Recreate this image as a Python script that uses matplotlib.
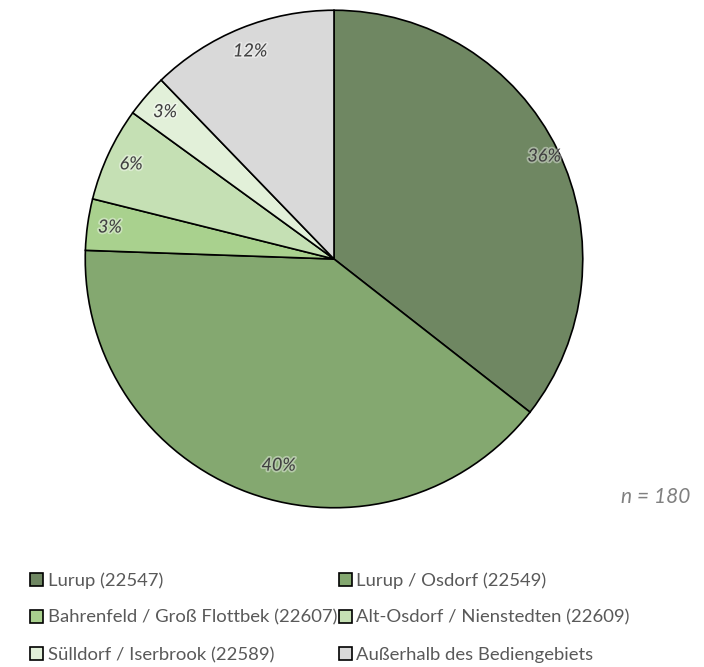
import numpy as np
import matplotlib.pyplot as plt
import matplotlib.patheffects as pe

plt.rcParams['font.family'] = ['Lato', 'DejaVu Sans']

labels = ['Lurup (22547)', 'Lurup / Osdorf (22549)', 'Bahrenfeld / Groß Flottbek (22607)',
          'Alt-Osdorf / Nienstedten (22609)', 'Sülldorf / Iserbrook (22589)',
          'Außerhalb des Bediengebiets']
counts = [64, 72, 6, 11, 5, 22]
pct_text = ['36%', '40%', '3%', '6%', '3%', '12%']
colors = ['#6F8762', '#84A870', '#A9D18E', '#C5E0B4', '#E2F0D9', '#D9D9D9']

W, H = 704, 667
fig = plt.figure(figsize=(W / 100, H / 100), dpi=100)
ax = fig.add_axes([84 / W, (H - 509) / H, 500 / W, 500 / H])

wedges, _ = ax.pie(counts, colors=colors, startangle=90, counterclock=False,
                   wedgeprops=dict(edgecolor='black', linewidth=1.2))
ax.set_xlim(-1.005, 1.005)
ax.set_ylim(-1.005, 1.005)
ax.set_aspect('equal')

# label placement: radius (fraction of pie radius) and angle shift in degrees
label_r = [0.94, 0.86, 0.91, 0.9, 0.9, 0.9]
label_shift = [0, 5, 0, 0, 0, 0]
theta = 90.0
total = sum(counts)
for c, t, r, s in zip(counts, pct_text, label_r, label_shift):
    span = 360.0 * c / total
    mid = np.deg2rad(theta - span / 2 + s)
    theta -= span
    ax.text(r * np.cos(mid), r * np.sin(mid), t, ha='center', va='center',
            fontsize=13, style='italic', color='#404040',
            path_effects=[pe.withStroke(linewidth=2.5, foreground='white', alpha=0.4)])

fig.text(690 / W, 1 - 497 / H, 'n = 180', ha='right', va='center', fontsize=15,
         style='italic', color='#808080')

order = [0, 2, 4, 1, 3, 5]
leg = fig.legend([wedges[i] for i in order], [labels[i] for i in order],
                 ncol=2, loc='upper left', bbox_to_anchor=(30 / W, 1 - 572 / H),
                 frameon=False, fontsize=13.3, handlelength=0.7, handleheight=0.7,
                 handletextpad=0.25, columnspacing=0.1, labelspacing=1.15,
                 borderaxespad=0, borderpad=0)
for txt in leg.get_texts():
    txt.set_color('#595959')

fig.savefig('out.png', dpi=100)
